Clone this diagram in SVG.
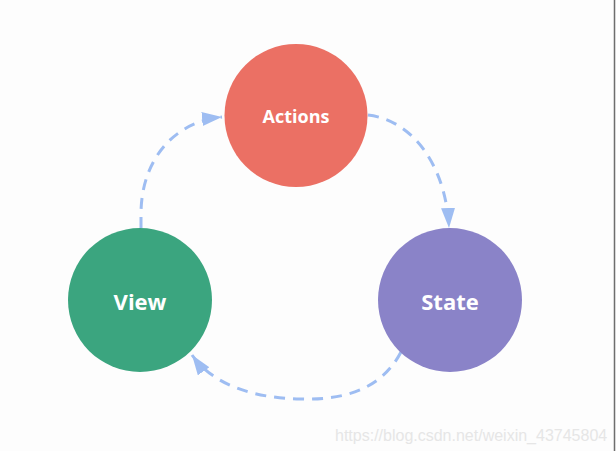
<svg xmlns="http://www.w3.org/2000/svg" width="616" height="451" viewBox="0 0 616 451">
<style>
.node-label{font-family:"Open Sans","DejaVu Sans",sans-serif;font-weight:bold;fill:#ffffff;text-anchor:middle;dominant-baseline:central}
.conn{fill:none;stroke:#9ebdf2;stroke-width:3;stroke-dasharray:11 8}
.wm{font-family:"Liberation Sans",Arial,sans-serif;font-size:16px;fill:#e6e6e6}
</style>
<defs>
<marker id="arr" viewBox="0 0 20 14" refX="20" refY="7" markerWidth="20" markerHeight="14" markerUnits="userSpaceOnUse" orient="auto">
<path d="M0,0 L20,7 L0,14 Z" fill="#9ebdf2"/>
</marker>
</defs>
<rect x="0" y="0" width="616" height="451" fill="#fdfdfd"/>
<line x1="614.5" y1="0" x2="614.5" y2="451" stroke="#6e6e6e" stroke-width="1.5"/>
<g id="connectors">
<path class="conn" d="M141,228 L141,214 C141,162 172,122 222,117" marker-end="url(#arr)"/>
<path class="conn" d="M368,115 C412,120 446,165 449,228" marker-end="url(#arr)"/>
<path class="conn" d="M401,352 C380,392 340,400 300,399 C255,398 214,386 192,355" marker-end="url(#arr)"/>
</g>
<g id="actions">
<circle cx="296" cy="115.5" r="71.5" fill="#eb7064"/>
<text class="node-label" x="296" y="116" font-size="18">Actions</text>
</g>
<g id="view">
<circle cx="140" cy="300" r="72" fill="#3ba57f"/>
<text class="node-label" x="140" y="301" font-size="22">View</text>
</g>
<g id="state">
<circle cx="450" cy="300" r="72" fill="#8a83c8"/>
<text class="node-label" x="450" y="301" font-size="22">State</text>
</g>
<text class="wm" x="335" y="441">https://blog.csdn.net/weixin_43745804</text>
</svg>
